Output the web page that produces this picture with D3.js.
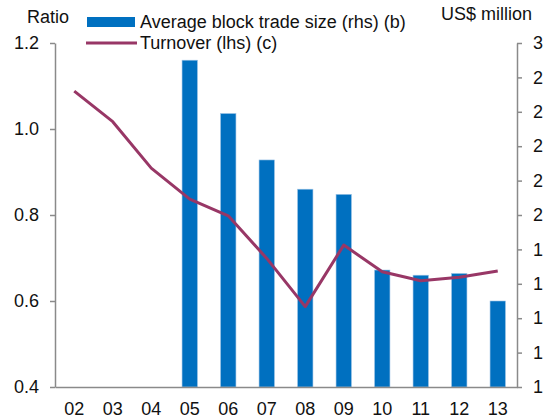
<!DOCTYPE html>
<html>
<head>
<meta charset="utf-8">
<script src="https://cdn.jsdelivr.net/npm/d3@7"></script>
<style>
	body { margin: 0; background: #fff; }
	text { font-family: "Liberation Sans", Arial, sans-serif; fill: #111; }
</style>
</head>
<body>
<div id="chart"></div>
<script>
// years on the x axis
const years = ["02", "03", "04", "05", "06", "07", "08", "09", "10", "11", "12", "13"];
// turnover ratio, left axis
const turnover = [1.088, 1.017, 0.909, 0.837, 0.798, 0.699, 0.587, 0.730, 0.668, 0.647, 0.655, 0.670];
// average block trade size (US$ million), right axis
const blockSize = [null, null, null, 29.0, 25.9, 23.2, 21.5, 21.2, 16.8, 16.5, 16.6, 15.0];
const leftTicks = [0.4, 0.6, 0.8, 1.0, 1.2];
const rightTicks = [10, 12, 14, 16, 18, 20, 22, 24, 26, 28, 30];

let width = 543;
let height = 420;
let plotLeft = 55, plotRight = 517, plotTop = 43, plotBottom = 387;
let fontSize = 18;

const svg = d3.select('#chart')
	.append('svg')
	.attr('width', width)
	.attr('height', height);

let x = d3.scaleBand()
	.domain(years)
	.range([plotLeft, plotRight])
	.paddingInner(0.6)
	.paddingOuter(0.3);

let yL = d3.scaleLinear().domain([0.4, 1.2]).range([plotBottom, plotTop]);
let yR = d3.scaleLinear().domain([10, 30]).range([plotBottom, plotTop]);

// bars
svg.append('g')
	.selectAll('rect')
	.data(years.map((d, i) => ({year: d, v: blockSize[i]})).filter(d => d.v != null))
	.join('rect')
	.attr('x', d => x(d.year))
	.attr('width', x.bandwidth())
	.attr('y', d => yR(d.v))
	.attr('height', d => yR(10) - yR(d.v))
	.attr('fill', '#0070c0')
	.attr('stroke', '#9cc3e5')
	.attr('stroke-width', 0.6);

// turnover line
let line = d3.line()
	.x((d, i) => x(years[i]) + x.bandwidth() / 2)
	.y(d => yL(d));

svg.append('path')
	.datum(turnover)
	.attr('fill', 'none')
	.attr('stroke', '#983766')
	.attr('stroke-width', 3)
	.attr('stroke-linejoin', 'round')
	.attr('d', line);

function styleAxis(g) {
	g.select('.domain').attr('stroke', '#8a8a8a').attr('stroke-width', 1.5);
	g.selectAll('.tick line').attr('stroke', '#8a8a8a').attr('stroke-width', 1.5);
	g.selectAll('text')
		.style('font-family', '"Liberation Sans", Arial, sans-serif')
		.style('font-size', fontSize + 'px')
		.attr('fill', '#111');
}

// left axis
svg.append('g')
	.attr('transform', `translate(${plotLeft},0)`)
	.call(d3.axisLeft(yL).tickValues(leftTicks).tickFormat(d3.format('.1f')).tickSize(5).tickPadding(11).tickSizeOuter(0))
	.call(styleAxis);

// right axis
svg.append('g')
	.attr('transform', `translate(${plotRight},0)`)
	.call(d3.axisRight(yR).tickValues(rightTicks).tickFormat(d3.format('d')).tickSize(5).tickPadding(11).tickSizeOuter(0))
	.call(styleAxis);

// bottom axis
svg.append('g')
	.attr('transform', `translate(0,${plotBottom})`)
	.call(d3.axisBottom(x).tickSize(0).tickPadding(15).tickSizeOuter(0))
	.call(styleAxis);

// axis titles
svg.append('text')
	.attr('x', 27)
	.attr('y', 23)
	.style('font-size', fontSize + 'px')
	.text('Ratio');

svg.append('text')
	.attr('x', 441)
	.attr('y', 20)
	.style('font-size', fontSize + 'px')
	.text('US$ million');

// legend
let legend = svg.append('g');
legend.append('rect')
	.attr('x', 87).attr('y', 17)
	.attr('width', 48).attr('height', 10)
	.attr('fill', '#0070c0');
legend.append('text')
	.attr('x', 140).attr('y', 28)
	.style('font-size', fontSize + 'px')
	.text('Average block trade size (rhs) (b)');
legend.append('line')
	.attr('x1', 86).attr('x2', 137)
	.attr('y1', 43).attr('y2', 43)
	.attr('stroke', '#983766')
	.attr('stroke-width', 3);
legend.append('text')
	.attr('x', 140).attr('y', 49)
	.style('font-size', fontSize + 'px')
	.text('Turnover (lhs) (c)');
</script>
</body>
</html>
